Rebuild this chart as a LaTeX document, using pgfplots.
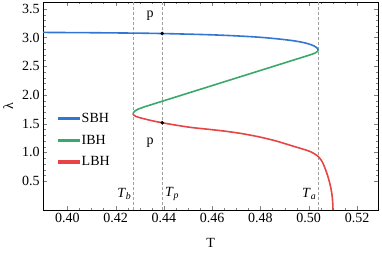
\documentclass[border=0pt]{standalone}
\usepackage{fontspec}
\setmainfont{Liberation Serif}
\usepackage{pgfplots}
\pgfplotsset{compat=1.18}
\definecolor{sbh}{RGB}{50,118,212}
\definecolor{ibh}{RGB}{58,168,108}
\definecolor{lbh}{RGB}{232,68,68}
\begin{document}
\begin{tikzpicture}
\begin{axis}[
  scale only axis, width=335pt, height=208pt,
  xmin=0.39, xmax=0.5287, ymin=0, ymax=3.62,
  xtick={0.40,0.42,0.44,0.46,0.48,0.50,0.52},
  ytick={0.5,1.0,1.5,2.0,2.5,3.0,3.5},
  minor x tick num=3, minor y tick num=4,
  tick align=inside, major tick length=4pt, minor tick length=2.3pt,
  /pgf/number format/assume math mode=true,
  xticklabel={\pgfmathprintnumber[fixed,fixed zerofill,precision=2]{\tick}},
  yticklabel={\pgfmathprintnumber[fixed,fixed zerofill,precision=1]{\tick}},
  tick label style={font=\fontsize{14}{16}\selectfont},
  label style={font=\fontsize{14}{16}\selectfont},
  xlabel={T}, ylabel={λ},
  xlabel style={at={(axis description cs:0.5,-0.159)}, anchor=center},
  ylabel style={at={(axis description cs:-0.1045,0.5)}, anchor=center, rotate=0},
  legend style={draw=none, fill=none, font=\fontsize{14}{16}\selectfont,
    at={(axis description cs:0.035,0.485)}, anchor=north west, row sep=7pt},
  legend cell align=left,
  legend image code/.code={\fill[#1] (0pt,-0.85pt) rectangle (20pt,0.85pt);},
]
\addplot[gray!75, dashed, line width=0.8pt, dash pattern=on 3pt off 2pt, forget plot] coordinates {(0.4272,0) (0.4272,3.62)};
\addplot[gray!75, dashed, line width=0.8pt, dash pattern=on 3pt off 2pt, forget plot] coordinates {(0.4393,0) (0.4393,3.62)};
\addplot[gray!75, dashed, line width=0.8pt, dash pattern=on 3pt off 2pt, forget plot] coordinates {(0.5039,0) (0.5039,3.62)};
\addplot[sbh, line width=1.6pt, smooth] coordinates {
(0.390,3.09) (0.410,3.085) (0.430,3.077) (0.440,3.07) (0.450,3.06) (0.460,3.048)
(0.470,3.03) (0.480,3.005) (0.488,2.974) (0.494,2.943) (0.498,2.912) (0.5010,2.876)
(0.5028,2.84) (0.5036,2.814) (0.5039,2.783)};
\addlegendentry{SBH}
\addplot[ibh, line width=1.6pt] coordinates {
(0.50390,2.7830) (0.50377,2.7663) (0.50337,2.7496) (0.50244,2.7275) (0.50086,2.7030)
(0.49849,2.6718) (0.49006,2.5606) (0.48162,2.4494) (0.47318,2.3382) (0.46475,2.2270)
(0.45631,2.1158) (0.44787,2.0046) (0.43943,1.8934) (0.43522,1.8378) (0.43184,1.7933)
(0.42936,1.7544) (0.42816,1.7266) (0.42744,1.6988) (0.42720,1.6710)};
\addlegendentry{IBH}
\addplot[lbh, line width=1.6pt, smooth] coordinates {
(0.4272,1.671) (0.4275,1.650) (0.4285,1.625) (0.4310,1.594) (0.4350,1.553) (0.4393,1.517)
(0.445,1.475) (0.4513,1.435) (0.458,1.405) (0.465,1.372) (0.472,1.33) (0.479,1.275)
(0.486,1.205) (0.4927,1.12) (0.4997,1.03) (0.5020,0.985) (0.5039,0.93) (0.5055,0.845)
(0.5067,0.73) (0.5078,0.60) (0.5088,0.45) (0.5094,0.33) (0.5098,0.20) (0.5100,0.07) (0.5100,0.0)};
\addlegendentry{LBH}
\addplot[only marks, mark=*, mark size=1.6pt, black, forget plot] coordinates {(0.4393,3.07) (0.4393,1.517)};
\node[font=\fontsize{14}{16}\selectfont] at (axis cs:0.4343,3.38) {p};
\node[font=\fontsize{14}{16}\selectfont] at (axis cs:0.4343,1.17) {p};
\node[font=\fontsize{14}{16}\selectfont, anchor=east, inner sep=1pt] at (axis cs:0.4270,0.27) {\textit{T}\textsubscript{\textit{b}}};
\node[font=\fontsize{14}{16}\selectfont, anchor=west, inner sep=1pt] at (axis cs:0.4400,0.27) {\textit{T}\textsubscript{\textit{p}}};
\node[font=\fontsize{14}{16}\selectfont, anchor=east, inner sep=1pt] at (axis cs:0.5036,0.27) {\textit{T}\textsubscript{\textit{a}}};
\end{axis}
\path (current axis.south west) ++(-43pt,-44pt) rectangle ++(382pt,254pt);
\end{tikzpicture}
\end{document}
